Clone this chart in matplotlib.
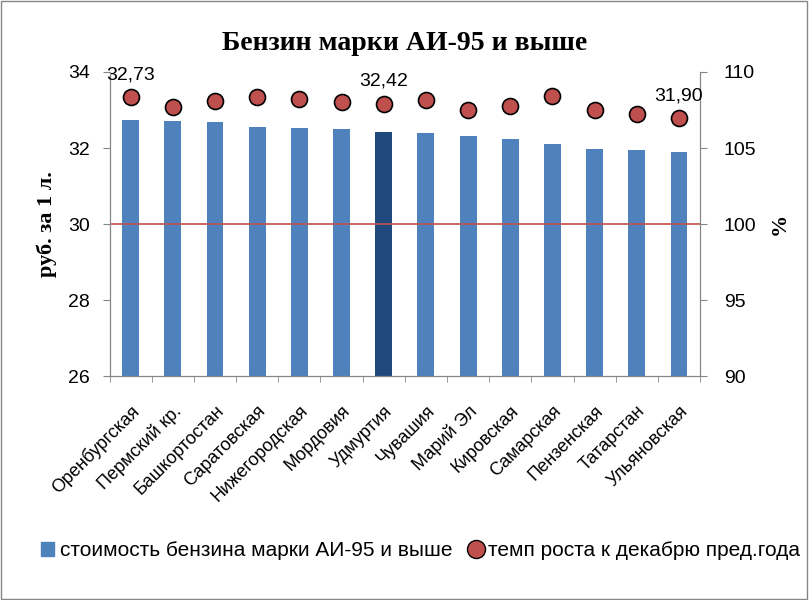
import numpy as np
import matplotlib.pyplot as plt
from matplotlib.lines import Line2D
from matplotlib.patches import Patch

regions = ['Оренбургская', 'Пермский кр.', 'Башкортостан', 'Саратовская',
           'Нижегородская', 'Мордовия', 'Удмуртия', 'Чувашия', 'Марий Эл',
           'Кировская', 'Самарская', 'Пензенская', 'Татарстан', 'Ульяновская']
price = [32.73, 32.70, 32.68, 32.55, 32.53, 32.51, 32.42, 32.40, 32.31,
         32.23, 32.11, 31.97, 31.96, 31.90]
growth = [108.33, 107.72, 108.09, 108.38, 108.25, 108.0, 107.92, 108.14,
          107.5, 107.78, 108.42, 107.5, 107.26, 106.95]
labeled = [0, 6, 13]
highlight = 6

plt.rcParams['font.family'] = ['Liberation Sans', 'DejaVu Sans']

fig = plt.figure(figsize=(8.09, 6), dpi=100)
ax = fig.add_axes([0.1354, 0.3733, 0.7300, 0.5067])
x = np.arange(len(regions))
colors = ['#4F81BD'] * len(regions)
colors[highlight] = '#1F497D'
ax.bar(x, price, width=0.4, color=colors, zorder=2)
ax.set_ylim(26, 34)
ax.set_yticks([26, 28, 30, 32, 34])
ax.set_xlim(-0.5, len(regions) - 0.5)
ax.set_xticks(x)
ax.set_xticklabels(regions, rotation=45, ha='right', va='top', rotation_mode='anchor', fontsize=13)
ax.set_xticks(np.arange(-0.5, len(regions)), minor=True)
ax.tick_params(axis='x', which='major', length=0, pad=19)
ax.tick_params(axis='x', which='minor', length=4, color='#868686', direction='out')
ax.tick_params(axis='y', labelsize=14, color='#868686', length=5, pad=9)
ax.set_ylabel('руб. за 1 л.', family='Liberation Serif', fontweight='bold', fontsize=16, labelpad=8)

ax2 = ax.twinx()
ax2.set_ylim(90, 110)
ax2.set_yticks([90, 95, 100, 105, 110])
ax2.axhline(100, color='#C0504D', lw=1.2, zorder=1)
ax2.plot(x, growth, 'o', ms=11.5, mfc='#C0504D', mec='black', mew=1.2, zorder=3)
ax2.tick_params(axis='y', labelsize=14, color='#868686', length=5, pad=12)
ax2.set_ylabel('%', family='Liberation Serif', fontweight='bold', fontsize=16, labelpad=10)

for i in labeled:
    ax2.annotate('{:.2f}'.format(price[i]).replace('.', ','), (x[i], growth[i]),
                 xytext=(0, 16), textcoords='offset points', ha='center', va='center', fontsize=14)

for a in (ax, ax2):
    a.spines['top'].set_visible(False)
    for s in ('left', 'right', 'bottom'):
        a.spines[s].set_color('#868686')

ax.set_title('Бензин марки АИ-95 и выше', family='Liberation Serif', fontweight='bold', fontsize=20, pad=16)

handles = [Patch(color='#4F81BD'),
           Line2D([], [], marker='o', ls='', ms=13, mfc='#C0504D', mec='black')]
fig.legend(handles, ['стоимость бензина марки АИ-95 и выше', 'темп роста к декабрю пред.года'],
           loc='center', bbox_to_anchor=(0.52, 0.082), ncol=2, frameon=False, fontsize=15,
           handlelength=0.6, handletextpad=0.3, columnspacing=0.8)

fig.patches.append(plt.Rectangle((0.001, 0.001), 0.997, 0.997, transform=fig.transFigure,
                                 fill=False, edgecolor='#868686', lw=1))
fig.savefig('out.png', dpi=100)
